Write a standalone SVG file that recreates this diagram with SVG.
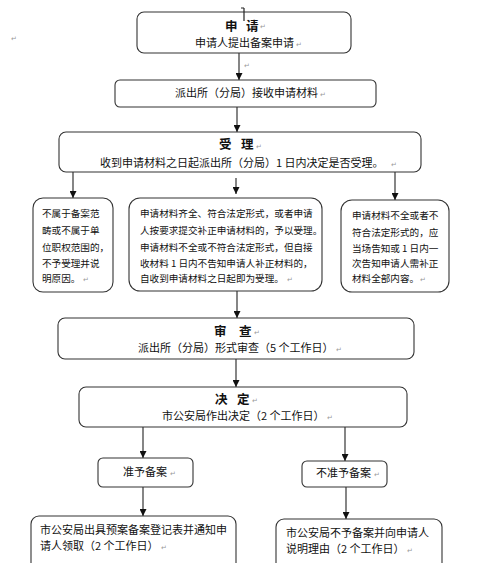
<svg xmlns="http://www.w3.org/2000/svg" width="500" height="563" viewBox="0 0 500 563">
<defs>
<marker id="ah" viewBox="0 0 10 10" refX="10" refY="5" markerWidth="7" markerHeight="7" orient="auto" markerUnits="userSpaceOnUse">
<path d="M0,0 L10,5 L0,10 z" fill="#111"/>
</marker>
<style>
.box{fill:#fff;stroke:#333;stroke-width:1.1}
.t{font-family:"Noto Sans CJK SC","Noto Sans",sans-serif;font-size:11px;fill:#111}
.s{font-family:"Noto Sans CJK SC","Noto Sans",sans-serif;font-size:9.6px;fill:#111}
.h{font-family:"Noto Sans CJK SC","Noto Sans",sans-serif;font-size:12.5px;font-weight:bold;fill:#111}
.pm{font-family:"DejaVu Sans",sans-serif;font-size:7px;fill:#999}
.c{stroke:#222;stroke-width:1.1;fill:none;marker-end:url(#ah)}
</style>
</defs>
<rect width="500" height="563" fill="#fff"/>
<text class="pm" x="11" y="41">↵</text>
<text class="pm" x="244" y="68">↵</text>

<g id="connectors">
<line class="c" x1="239" y1="53" x2="239" y2="80"/>
<line class="c" x1="237" y1="107" x2="237" y2="132"/>
<line class="c" x1="73" y1="172" x2="73" y2="198"/>
<line class="c" x1="236" y1="178" x2="236" y2="194"/>
<line class="c" x1="395" y1="172" x2="395" y2="200"/>
<line class="c" x1="237" y1="291" x2="237" y2="318"/>
<line class="c" x1="236" y1="359" x2="236" y2="387"/>
<line class="c" x1="143" y1="427" x2="143" y2="458"/>
<line class="c" x1="345" y1="427" x2="345" y2="461"/>
<line class="c" x1="143" y1="487" x2="143" y2="516"/>
<line class="c" x1="346" y1="487" x2="346" y2="519"/>
</g>

<g id="n_apply">
<rect class="box" x="137" y="12" width="214" height="41" rx="7"/>
<text class="h" x="225" y="31">申</text>
<text class="h" x="246" y="31">请</text>
<text class="pm" x="260" y="29">↵</text>
<text class="t" x="195" y="47">申请人提出备案申请</text>
<text class="pm" x="296" y="47">↵</text>
</g>

<line x1="244" y1="8" x2="244" y2="21" stroke="#222" stroke-width="1.2"/>
<line x1="241" y1="8" x2="244" y2="8" stroke="#222" stroke-width="1"/>

<g id="n_receive">
<rect class="box" x="115" y="80" width="261" height="27" rx="5"/>
<text class="t" x="175" y="97">派出所（分局）接收申请材料</text>
<text class="pm" x="320" y="97">↵</text>
</g>

<g id="n_accept">
<rect class="box" x="59" y="132" width="362" height="40" rx="7"/>
<text class="h" x="219" y="149">受</text>
<text class="h" x="241" y="149">理</text>
<text class="pm" x="256" y="149">↵</text>
<text class="t" x="100" y="167">收到申请材料之日起派出所（分局）1 日内决定是否受理。</text>
<text class="pm" x="391" y="167">↵</text>
</g>

<g id="n_reject">
<rect class="box" x="33" y="198" width="80" height="94" rx="10"/>
<text class="s" x="42" y="217">不属于备案范</text>
<text class="s" x="42" y="234">畴或不属于单</text>
<text class="s" x="42" y="251">位职权范围的，</text>
<text class="s" x="42" y="267">不予受理并说</text>
<text class="s" x="42" y="282">明原因。</text>
<text class="pm" x="83" y="282">↵</text>
</g>

<g id="n_complete">
<rect class="box" x="129" y="198" width="193" height="93" rx="11"/>
<text class="s" x="140" y="217">申请材料齐全、符合法定形式，或者申请</text>
<text class="s" x="140" y="234">人按要求提交补正申请材料的，予以受理。</text>
<text class="s" x="140" y="251">申请材料不全或不符合法定形式，但自接</text>
<text class="s" x="140" y="267">收材料 1 日内不告知申请人补正材料的，</text>
<text class="s" x="140" y="282">自收到申请材料之日起即为受理。</text>
<text class="pm" x="287" y="282">↵</text>
</g>

<g id="n_incomplete">
<rect class="box" x="341" y="200" width="108" height="92" rx="11"/>
<text class="s" x="352" y="219">申请材料不全或者不</text>
<text class="s" x="352" y="236">符合法定形式的，应</text>
<text class="s" x="352" y="252">当场告知或 1 日内一</text>
<text class="s" x="352" y="267">次告知申请人需补正</text>
<text class="s" x="352" y="282">材料全部内容。</text>
<text class="pm" x="420" y="282">↵</text>
</g>

<g id="n_review">
<rect class="box" x="58" y="318" width="356" height="41" rx="7"/>
<text class="h" x="214" y="336">审</text>
<text class="h" x="239" y="336">查</text>
<text class="pm" x="254" y="335">↵</text>
<text class="t" x="138" y="352">派出所（分局）形式审查（5 个工作日）</text>
<text class="pm" x="336" y="352">↵</text>
</g>

<g id="n_decide">
<rect class="box" x="79" y="387" width="328" height="40" rx="7"/>
<text class="h" x="215" y="404">决</text>
<text class="h" x="237" y="404">定</text>
<text class="pm" x="252" y="403">↵</text>
<text class="t" x="162" y="420">市公安局作出决定（2 个工作日）</text>
<text class="pm" x="327" y="420">↵</text>
</g>

<g id="n_approve">
<rect class="box" x="98" y="458" width="95" height="29" rx="5"/>
<text class="t" x="123" y="476">准予备案</text>
<text class="pm" x="170" y="476">↵</text>
</g>

<g id="n_deny">
<rect class="box" x="302" y="461" width="85" height="26" rx="5"/>
<text class="t" x="316" y="477">不准予备案</text>
<text class="pm" x="374" y="477">↵</text>
</g>

<g id="n_issue">
<rect class="box" x="31" y="516" width="205" height="60" rx="8"/>
<text class="t" x="40" y="534">市公安局出具预案备案登记表并通知申</text>
<text class="t" x="40" y="550">请人领取（2 个工作日）</text>
<text class="pm" x="161" y="550">↵</text>
</g>

<g id="n_explain">
<rect class="box" x="276" y="519" width="166" height="60" rx="8"/>
<text class="t" x="286" y="537">市公安局不予备案并向申请人</text>
<text class="t" x="286" y="553">说明理由（2 个工作日）</text>
<text class="pm" x="407" y="553">↵</text>
</g>
</svg>
